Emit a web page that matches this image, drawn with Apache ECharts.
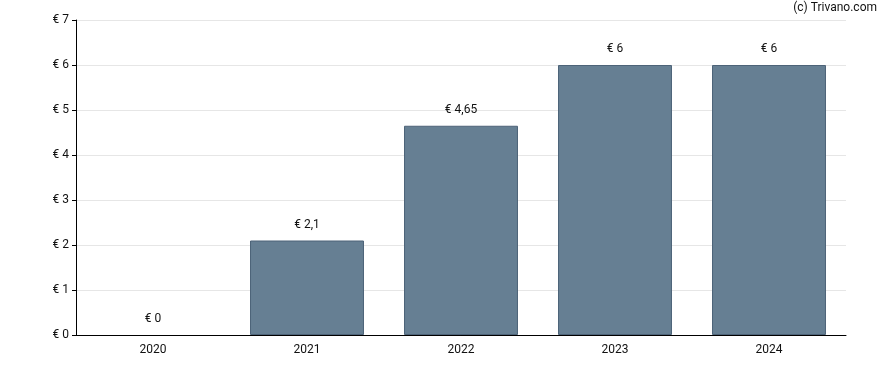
<!DOCTYPE html>
<html><head><meta charset="utf-8">
<script src="https://cdn.jsdelivr.net/npm/echarts@6/dist/echarts.min.js"></script>
<style>html,body{margin:0;padding:0;background:#fff}#c{width:888px;height:370px}</style>
</head><body><div id="c"></div>
<script>
const categories = ['2020','2021','2022','2023','2024'];
const values = [0, 2.1, 4.65, 6, 6];
const yTicks = {min:0, max:7, interval:1};
const fmt = v => '€ ' + String(v).replace('.', ',');
const chart = echarts.init(document.getElementById('c'), null, {renderer:'canvas'});
chart.setOption({
  animation:false,
  textStyle:{fontFamily:'Roboto, "DejaVu Sans", sans-serif'},
  graphic:[{type:'text', right:11, top:2, style:{text:'(c) Trivano.com', fill:'#111', font:'12px Roboto, sans-serif'}}],
  grid:{left:76, right:42, top:20, bottom:35, containLabel:false},
  xAxis:{type:'category', data:categories,
    axisLine:{lineStyle:{color:'#000', width:1}},
    axisTick:{alignWithLabel:true, length:4, lineStyle:{color:'#000'}},
    axisLabel:{color:'#111', fontSize:12, margin:9}},
  yAxis:{type:'value', min:yTicks.min, max:yTicks.max, interval:yTicks.interval,
    axisLine:{show:true, lineStyle:{color:'#000', width:1}},
    axisTick:{show:true, length:4, lineStyle:{color:'#000'}},
    splitLine:{lineStyle:{color:'#e6e6e6'}},
    axisLabel:{color:'#111', fontSize:12, margin:7, formatter:v=>'€ '+v}},
  series:[{type:'bar',
    data:values.map(v => ({value:v, itemStyle:{borderWidth: v === 0 ? 0 : 1}})),
    barWidth:'74%',
    itemStyle:{color:'#667f93', borderColor:'#4d6378', borderWidth:1},
    label:{show:true, position:'top', distance:10, color:'#111', fontSize:12, formatter:p=>fmt(p.value)}}]
});
</script></body></html>
